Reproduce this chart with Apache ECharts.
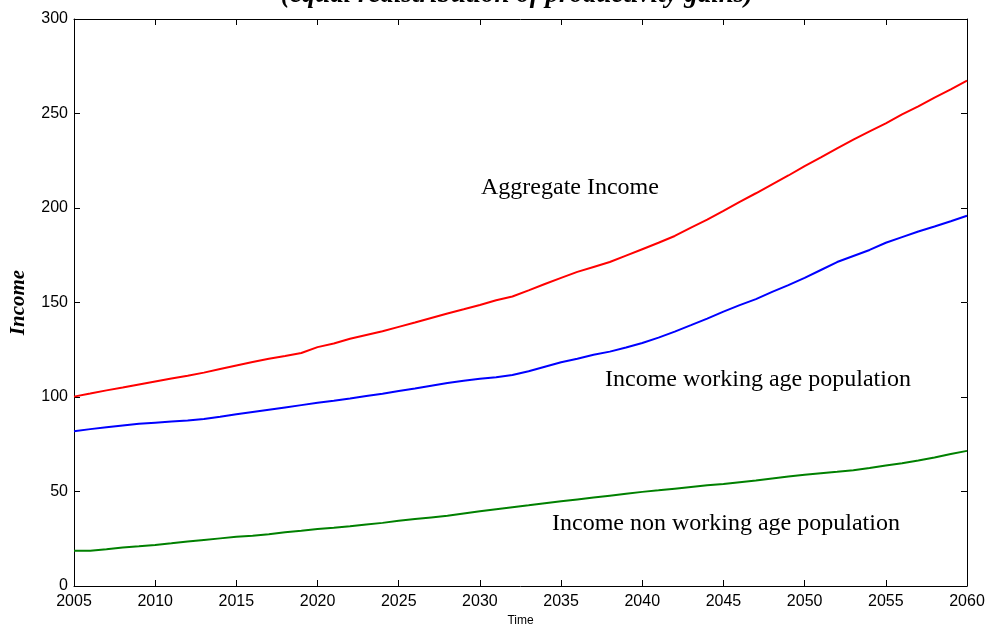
<!DOCTYPE html>
<html>
<head>
<meta charset="utf-8">
<script src="https://cdn.jsdelivr.net/npm/echarts@6/dist/echarts.min.js"></script>
<style>html,body{margin:0;padding:0;background:#fff}#c{width:988px;height:626px}</style>
</head>
<body>
<div id="c"></div>
<script>
var years = [];
for (var y = 2005; y <= 2060; y++) years.push(y);

var aggregateIncome = [100.2,101.8,103.5,105.0,106.6,108.2,109.8,111.3,112.9,114.8,116.7,118.5,120.2,121.7,123.3,126.4,128.3,130.8,132.8,134.8,137.1,139.4,141.8,144.2,146.4,148.7,151.2,153.2,156.4,159.8,163.0,166.2,168.8,171.4,174.8,178.2,181.6,185.2,189.6,193.8,198.5,203.3,207.8,212.5,217.2,222.2,226.8,231.6,236.2,240.5,244.8,249.5,253.8,258.4,262.8,267.4];
var workingAgeIncome = [81.9,83.0,84.0,84.9,85.8,86.4,87.0,87.6,88.4,89.6,90.9,92.1,93.3,94.5,95.7,96.9,98.0,99.2,100.5,101.7,103.2,104.5,106.0,107.4,108.6,109.6,110.5,111.6,113.6,116.0,118.4,120.2,122.4,124.0,126.2,128.6,131.4,134.6,138.0,141.5,145.2,148.6,151.8,155.6,159.2,163.0,167.2,171.4,174.6,177.8,181.6,184.6,187.6,190.2,193.0,195.9];
var nonWorkingAgeIncome = [18.6,18.7,19.5,20.4,21.0,21.7,22.6,23.6,24.4,25.2,26.0,26.6,27.4,28.4,29.2,30.1,30.8,31.6,32.6,33.4,34.5,35.4,36.3,37.2,38.4,39.5,40.6,41.7,42.7,43.8,44.8,45.8,46.8,47.8,48.8,49.8,50.6,51.5,52.4,53.3,54.0,54.9,55.8,56.9,57.9,58.8,59.6,60.4,61.3,62.4,63.8,65.0,66.4,68.0,69.8,71.5];

var seriesNames = ['Aggregate Income', 'Income working age population', 'Income non working age population'];
var titleText = '(equal redistribution of productivity gains)';

function pairs(vals) { return years.map(function (yr, i) { return [yr, vals[i]]; }); }

var chart = echarts.init(document.getElementById('c'));
var sans = '"Liberation Sans", Arial, sans-serif';
var serif = '"Liberation Serif", "Times New Roman", serif';
var axisCommon = {
  axisLine: { show: true, onZero: false, lineStyle: { color: '#000', width: 1 } },
  axisTick: { show: true, inside: true, length: 6, lineStyle: { color: '#000' } },
  splitLine: { show: false }
};
function lineSeries(name, vals, color) {
  return { name: name, type: 'line', data: pairs(vals), showSymbol: false, symbol: 'none',
    lineStyle: { color: color, width: 2 }, itemStyle: { color: color }, animation: false };
}
chart.setOption({
  animation: false,
  grid: { left: 74, right: 21, top: 19, bottom: 40, containLabel: false, outerBoundsMode: 'none' },
  xAxis: [
    Object.assign({ type: 'value', min: 2005, max: 2060, interval: 5,
      name: 'Time', nameLocation: 'middle', nameGap: 28,
      nameTextStyle: { fontFamily: sans, fontSize: 12, color: '#000' },
      axisLabel: { fontFamily: sans, fontSize: 16, color: '#000', margin: 8,
        formatter: function (v) { return String(v); } } }, axisCommon),
    Object.assign({ type: 'value', position: 'top', min: 2005, max: 2060, interval: 5,
      axisLabel: { show: false } }, axisCommon)
  ],
  yAxis: [
    Object.assign({ type: 'value', min: 0, max: 300, interval: 50,
      name: 'Income', nameLocation: 'middle', nameGap: 45,
      nameTextStyle: { fontFamily: serif, fontSize: 21, fontWeight: 'bold', fontStyle: 'italic', color: '#000' },
      axisLabel: { fontFamily: sans, fontSize: 16, color: '#000', margin: 6 } }, axisCommon),
    Object.assign({ type: 'value', position: 'right', min: 0, max: 300, interval: 50,
      axisLabel: { show: false } }, axisCommon)
  ],
  series: [
    lineSeries(seriesNames[0], aggregateIncome, '#ff0000'),
    lineSeries(seriesNames[1], workingAgeIncome, '#0000ff'),
    lineSeries(seriesNames[2], nonWorkingAgeIncome, '#008000')
  ],
  graphic: [
    { type: 'text', x: 517, y: 9, style: { text: titleText, font: 'italic bold 27px ' + serif, fill: '#000', align: 'center', verticalAlign: 'bottom' } },
    { type: 'text', x: 481, y: 188, style: { text: seriesNames[0], font: '24px ' + serif, fill: '#000', verticalAlign: 'middle' } },
    { type: 'text', x: 605, y: 380, style: { text: seriesNames[1], font: '24px ' + serif, fill: '#000', verticalAlign: 'middle' } },
    { type: 'text', x: 552, y: 524, style: { text: seriesNames[2], font: '24px ' + serif, fill: '#000', verticalAlign: 'middle' } }
  ]
});
</script>
</body>
</html>
